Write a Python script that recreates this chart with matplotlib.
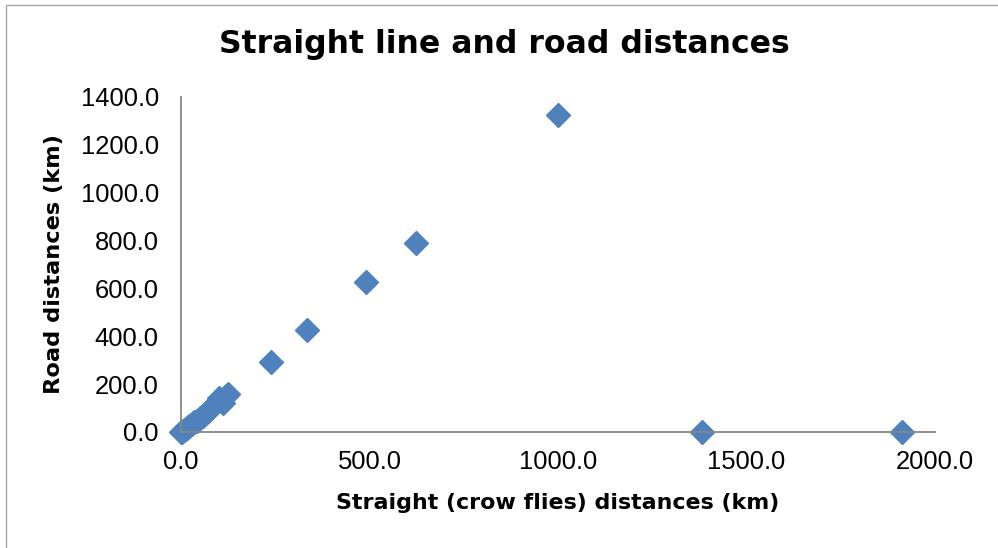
import matplotlib
matplotlib.use("Agg")
import matplotlib.pyplot as plt
from matplotlib.patches import Rectangle

# straight-line vs road distances (km)
straight_km = [0, 3, 8, 12, 18, 22, 28, 35, 42, 50, 58, 65, 72, 80, 88, 95, 100,
               110, 118, 125, 238, 334, 490, 622, 1001, 1383, 1912]
road_km = [0, 2, 8, 14, 20, 27, 34, 42, 48, 58, 68, 78, 88, 100, 112, 125, 140,
           120, 150, 158, 292, 426, 627, 790, 1325, 0, 0]

x_ticks = [0, 500, 1000, 1500, 2000]
y_ticks = [0, 200, 400, 600, 800, 1000, 1200, 1400]

fig = plt.figure(figsize=(9.98, 5.48), dpi=100)
ax = fig.add_axes([0.1814, 0.2117, 0.7555, 0.6113])

# chart area frame
fig.patches.append(Rectangle((0.006, -0.01), 1.2, 1.0, transform=fig.transFigure,
                             fill=False, edgecolor='#a6a6a6', linewidth=1))

ax.plot(straight_km, road_km, linestyle='none', marker='D', markersize=12,
        color='#4f81bd', markeredgecolor='#4f81bd', clip_on=False)

ax.set_xlim(0, 2000)
ax.set_ylim(0, 1400)
ax.set_xticks(x_ticks)
ax.set_yticks(y_ticks)
ax.set_xticklabels(['%.1f' % v for v in x_ticks])
ax.set_yticklabels(['%.1f' % v for v in y_ticks])
for lab in ax.get_xticklabels() + ax.get_yticklabels():
    lab.set_fontfamily('Liberation Sans')
    lab.set_fontsize(18.4)
ax.tick_params(axis='y', length=0, pad=16)
ax.tick_params(axis='x', length=0, pad=13)

for s in ['top', 'right']:
    ax.spines[s].set_visible(False)
for s in ['left', 'bottom']:
    ax.spines[s].set_color('#868686')
    ax.spines[s].set_linewidth(1.3)

title_font = {'family': 'DejaVu Sans', 'weight': 'bold'}
fig.text(0.505, 0.918, 'Straight line and road distances', ha='center', va='center',
         fontsize=22.7, **title_font)
ax.set_xlabel('Straight (crow flies) distances (km)', fontsize=15.9, labelpad=14, **title_font)
ax.set_ylabel('Road distances (km)', fontsize=16.2, labelpad=12, **title_font)

fig.savefig('out.png', dpi=100)
